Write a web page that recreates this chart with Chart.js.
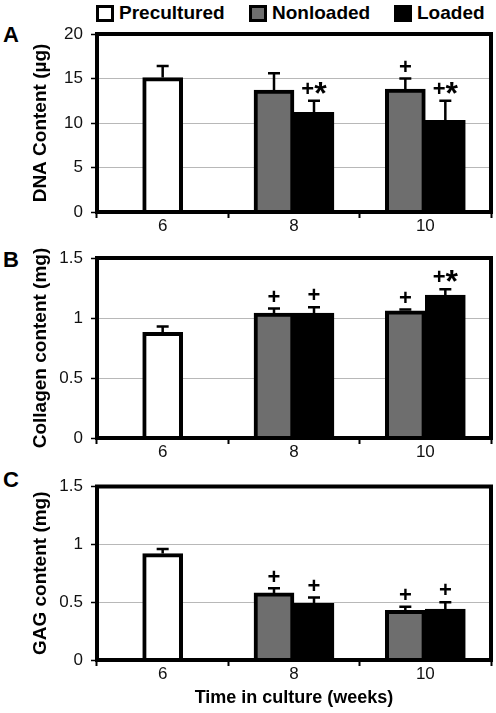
<!DOCTYPE html>
<html>
<head>
<meta charset="utf-8">
<script src="https://cdn.jsdelivr.net/npm/chart.js@4.4.0/dist/chart.umd.min.js"></script>
<style>
  html, body { margin: 0; padding: 0; background: #fff; }
  #wrap { position: relative; width: 496px; height: 713px; font-family: Arial, "Liberation Sans", sans-serif; color: #000; }
  canvas { position: absolute; left: 0; }
  .legend-item { position: absolute; top: 2px; display: flex; align-items: center; font-weight: bold; font-size: 19px; line-height: 22px; }
  .legend-box { width: 12px; height: 11px; border: 3px solid #000; margin-right: 5px; }
  .panel { position: absolute; left: 3px; font-weight: bold; font-size: 22px; line-height: 22px; }
</style>
</head>
<body>
<div id="wrap">
  <div id="legend"></div>
  <div class="panel" style="top:24px">A</div>
  <div class="panel" style="top:249px">B</div>
  <div class="panel" style="top:469px">C</div>
  <canvas id="chartA" width="496" height="240" style="top:0"></canvas>
  <canvas id="chartB" width="496" height="230" style="top:240px"></canvas>
  <canvas id="chartC" width="496" height="243" style="top:470px"></canvas>
</div>
<script>
const weeks = ['6', '8', '10'];
const seriesNames = ['Precultured', 'Nonloaded', 'Loaded'];
const seriesColors = ['#ffffff', '#6e6e6e', '#000000'];
const legendLeft = [96, 249, 394];

// DNA content (ug)
const dnaPre = [15.1, null, null];
const dnaPreErr = [1.3, null, null];
const dnaNon = [null, 13.7, 13.8];
const dnaNonErr = [null, 1.9, 1.2];
const dnaLoad = [null, 11.2, 10.3];
const dnaLoadErr = [null, 1.3, 2.2];
const dnaNonMarks = ['', '', '+'];
const dnaLoadMarks = ['', '+*', '+*'];

// Collagen content (mg)
const colPre = [0.88, null, null];
const colPreErr = [0.05, null, null];
const colNon = [null, 1.04, 1.06];
const colNonErr = [null, 0.04, 0.01];
const colLoad = [null, 1.04, 1.19];
const colLoadErr = [null, 0.05, 0.05];
const colNonMarks = ['', '+', '+'];
const colLoadMarks = ['', '+', '+*'];

// GAG content (mg)
const gagPre = [0.92, null, null];
const gagPreErr = [0.04, null, null];
const gagNon = [null, 0.58, 0.43];
const gagNonErr = [null, 0.04, 0.03];
const gagLoad = [null, 0.49, 0.44];
const gagLoadErr = [null, 0.05, 0.06];
const gagNonMarks = ['', '+', '+'];
const gagLoadMarks = ['', '+', '+'];

const FONT = 'Arial, "Liberation Sans", sans-serif';

// html legend
const legend = document.getElementById('legend');
seriesNames.forEach((name, i) => {
  const item = document.createElement('div');
  item.className = 'legend-item';
  item.style.left = legendLeft[i] + 'px';
  const box = document.createElement('span');
  box.className = 'legend-box';
  box.style.background = seriesColors[i];
  item.appendChild(box);
  item.appendChild(document.createTextNode(name));
  legend.appendChild(item);
});

const framePlugin = {
  id: 'frame',
  afterDatasetsDraw(chart) {
    const {ctx, chartArea: a} = chart;
    ctx.save();
    ctx.strokeStyle = '#000';
    ctx.lineWidth = 4;
    ctx.strokeRect(a.left, a.top, a.right - a.left, a.bottom - a.top);
    ctx.restore();
  }
};

function drawMark(ctx, text, x, cy) {
  // "+" and "*" drawn at sizes that look alike
  const parts = text.split('').map(ch => {
    const size = ch === '*' ? 32 : 22;
    ctx.font = 'bold ' + size + 'px ' + FONT;
    return {ch, size, w: ctx.measureText(ch).width};
  });
  const total = parts.reduce((s, p) => s + p.w, 0);
  let px = x - total / 2;
  ctx.textAlign = 'left';
  ctx.textBaseline = 'alphabetic';
  parts.forEach(p => {
    ctx.font = 'bold ' + p.size + 'px ' + FONT;
    const off = p.ch === '*' ? 0.47 : 0.33;
    ctx.fillText(p.ch, px, cy + p.size * off);
    px += p.w;
  });
}

const errorPlugin = {
  id: 'errorBars',
  afterDatasetsDraw(chart) {
    const ctx = chart.ctx;
    const y = chart.scales.y;
    chart.data.datasets.forEach((ds, i) => {
      chart.getDatasetMeta(i).data.forEach((bar, j) => {
        const v = ds.data[j];
        if (v === null || v === undefined) return;
        const top = y.getPixelForValue(v + ds.err[j]);
        ctx.save();
        ctx.strokeStyle = '#000';
        ctx.lineWidth = 2.5;
        ctx.beginPath();
        ctx.moveTo(bar.x, bar.y);
        ctx.lineTo(bar.x, top);
        ctx.moveTo(bar.x - 6, top);
        ctx.lineTo(bar.x + 6, top);
        ctx.stroke();
        if (ds.marks[j]) {
          ctx.fillStyle = '#000';
          drawMark(ctx, ds.marks[j], bar.x, top - 12);
        }
        ctx.restore();
      });
    });
  }
};

function makePanel(id, cfg) {
  const sets = [
    [cfg.pre, cfg.preErr, ['', '', '']],
    [cfg.non, cfg.nonErr, cfg.nonMarks],
    [cfg.load, cfg.loadErr, cfg.loadMarks]
  ];
  const datasets = sets.map((s, i) => ({
    label: seriesNames[i],
    data: s[0],
    err: s[1],
    marks: s[2],
    backgroundColor: seriesColors[i],
    borderColor: '#000',
    borderWidth: 4,
    barThickness: 40,
    skipNull: true
  }));

  new Chart(document.getElementById(id), {
    type: 'bar',
    data: { labels: weeks, datasets: datasets },
    plugins: [framePlugin, errorPlugin],
    options: {
      responsive: false,
      animation: false,
      layout: { padding: { top: cfg.padTop, right: 5, left: 0, bottom: 0 } },
      plugins: { legend: { display: false }, tooltip: { enabled: false } },
      scales: {
        x: {
          offset: true,
          border: { display: false },
          grid: { offset: true, drawOnChartArea: false, tickLength: 6, tickColor: '#000', tickWidth: 2, color: '#000' },
          ticks: { font: { family: FONT, size: 17, lineHeight: 1 }, color: '#111', padding: 0 },
          title: {
            display: !!cfg.xTitle,
            text: cfg.xTitle || '',
            color: '#000',
            font: { family: FONT, size: 18, weight: 'bold', lineHeight: 1 },
            padding: { top: 0, bottom: 6 }
          },
          afterFit(s) { s.height = cfg.xHeight; }
        },
        y: {
          min: 0,
          max: cfg.max,
          border: { display: false },
          grid: {
            color: c => (c.tick.value > 0 && c.tick.value < cfg.max) ? '#b8b8b8' : 'rgba(0,0,0,0)',
            tickColor: '#000',
            tickLength: 6,
            tickWidth: 1.5
          },
          ticks: {
            stepSize: cfg.step,
            callback: v => String(v),
            font: { family: FONT, size: 17, lineHeight: 1 },
            color: '#111',
            padding: 8
          },
          title: {
            display: true,
            text: cfg.yTitle,
            color: '#000',
            font: { family: FONT, size: 19, weight: 'bold', lineHeight: 1 },
            padding: { top: 31, bottom: 0 }
          },
          afterFit(s) { s.width = 97; }
        }
      }
    }
  });
}

makePanel('chartA', {
  pre: dnaPre, preErr: dnaPreErr, non: dnaNon, nonErr: dnaNonErr, load: dnaLoad, loadErr: dnaLoadErr,
  nonMarks: dnaNonMarks, loadMarks: dnaLoadMarks,
  max: 20, step: 5, yTitle: 'DNA Content (µg)', padTop: 34, xHeight: 28
});
makePanel('chartB', {
  pre: colPre, preErr: colPreErr, non: colNon, nonErr: colNonErr, load: colLoad, loadErr: colLoadErr,
  nonMarks: colNonMarks, loadMarks: colLoadMarks,
  max: 1.5, step: 0.5, yTitle: 'Collagen content (mg)', padTop: 18, xHeight: 32
});
makePanel('chartC', {
  pre: gagPre, preErr: gagPreErr, non: gagNon, nonErr: gagNonErr, load: gagLoad, loadErr: gagLoadErr,
  nonMarks: gagNonMarks, loadMarks: gagLoadMarks,
  max: 1.5, step: 0.5, yTitle: 'GAG content (mg)', padTop: 11, xHeight: 53,
  xTitle: 'Time in culture (weeks)'
});
</script>
</body>
</html>
